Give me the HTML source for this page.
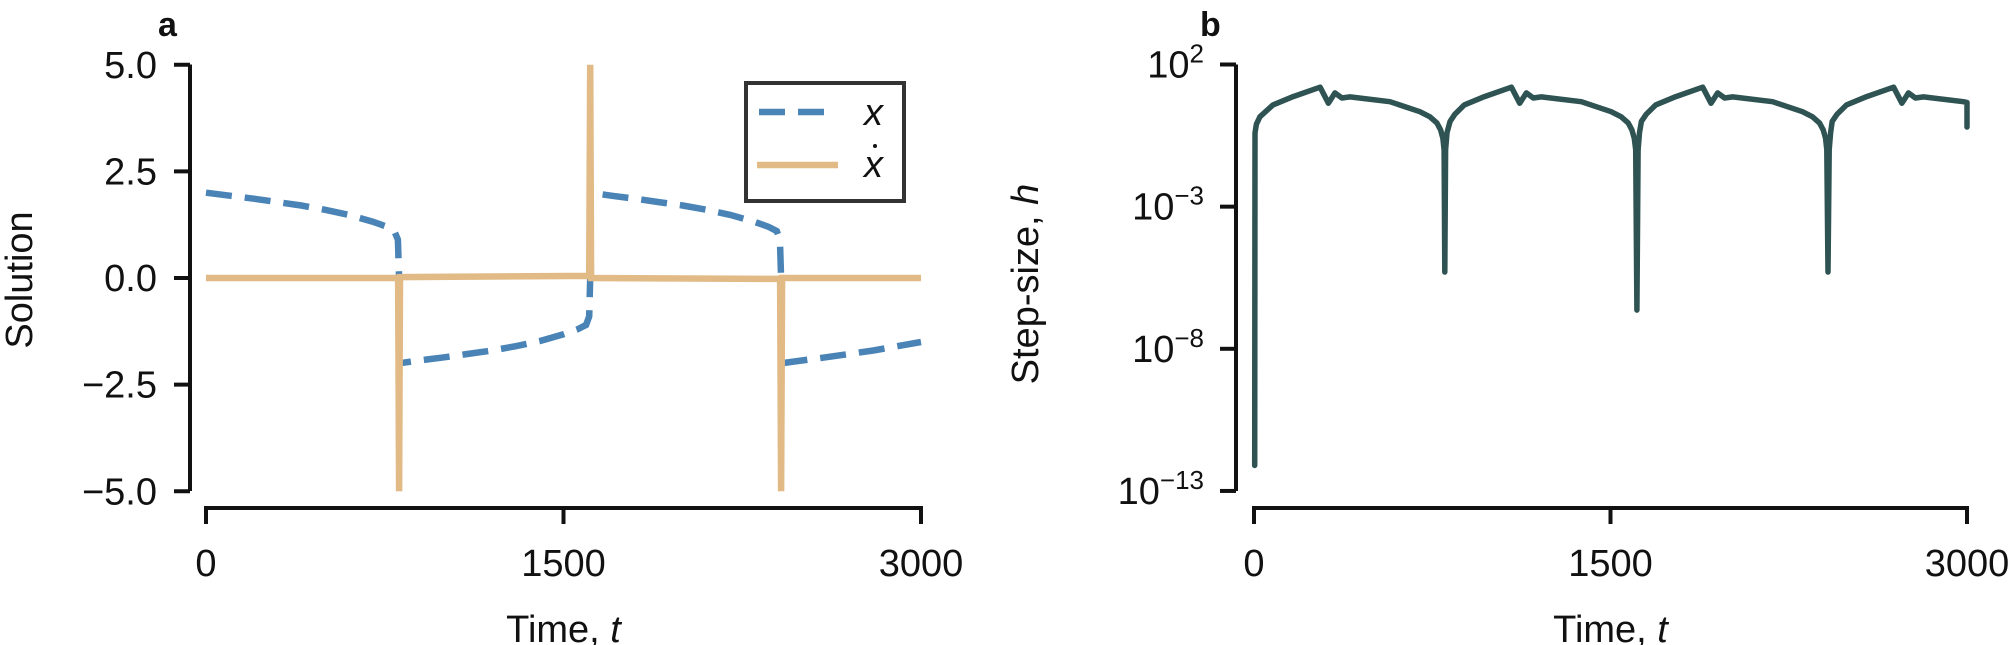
<!DOCTYPE html>
<html><head><meta charset="utf-8">
<style>
html,body{margin:0;padding:0;background:#fff;}
svg{display:block;font-family:"Liberation Sans",sans-serif;}
.tick{font-size:38px;fill:#111;}
.title{font-size:38px;fill:#111;}
</style></head>
<body>
<svg id="chart" width="2016" height="645" viewBox="0 0 2016 645">
<g id="pa"></g>
<g id="pb"></g>
</svg>
<script>
// Panel a data
const aXTicks = [0, 1500, 3000];
const aYTicks = [5.0, 2.5, 0.0, -2.5, -5.0];
const aYTickLabels = ["5.0", "2.5", "0.0", "\u22122.5", "\u22125.0"];
const xT = [0,100,200,300,400,500,600,700,760,790,805,810,810,
  900,1000,1100,1200,1300,1400,1500,1560,1595,1608,1612,1612,
  1700,1800,1900,2000,2100,2200,2300,2360,2395,2408,2413,2413,2600,2800,3000];
const xV = [2.0,1.93,1.86,1.78,1.7,1.6,1.48,1.32,1.2,1.1,0.9,0.0,-2.0,
  -1.93,-1.86,-1.78,-1.7,-1.6,-1.48,-1.32,-1.2,-1.1,-0.9,0.0,2.0,
  1.93,1.86,1.78,1.7,1.6,1.48,1.32,1.2,1.1,0.9,0.0,-2.0,-1.86,-1.7,-1.5];
const dT = [0,806,810,814,1608,1612,1616,2409,2413,2417,3000];
const dV = [0.0,0.0,-5.0,0.02,0.05,5.0,0.0,-0.02,-5.0,0.0,0.0];
// Panel b data (log10 step size)
const bYTicks = [2, -3, -8, -13];
const bYTickSup = ["2", "\u22123", "\u22128", "\u221213"];
const hT = [3,4,10,25,80,165,278,313,341,370,404,572,698,740,770,785,795,800,803,806,812,
  825,845,885,970,1083,1118,1146,1175,1209,1377,1503,1545,1575,1590,1600,1606,1611,1616,1622,
  1630,1650,1690,1775,1888,1923,1951,1980,2014,2182,2308,2350,2380,2395,2405,2410,2415,2420,2426,
  2433,2453,2493,2578,2691,2726,2754,2783,2817,2985,3000,3000];
const hV = [-12.1,-0.41,-0.1,0.16,0.58,0.87,1.2,0.64,1.0,0.82,0.86,0.69,0.34,0.16,-0.06,-0.3,-0.6,-1.0,-5.3,-1.0,-0.4,
  0.0,0.25,0.58,0.87,1.2,0.64,1.0,0.82,0.86,0.69,0.34,0.16,-0.06,-0.3,-0.6,-1.0,-6.64,-1.0,-0.4,
  0.0,0.25,0.58,0.87,1.2,0.64,1.0,0.82,0.86,0.69,0.34,0.16,-0.06,-0.3,-0.6,-1.0,-5.3,-1.0,-0.4,
  0.0,0.25,0.58,0.87,1.2,0.64,1.0,0.82,0.86,0.69,0.66,-0.2];

const NS = "http://www.w3.org/2000/svg";
function mk(parent, tag, attrs, text){
  const e = document.createElementNS(NS, tag);
  for (const k in attrs) e.setAttribute(k, attrs[k]);
  if (text !== undefined) e.textContent = text;
  parent.appendChild(e);
  return e;
}
const pa = document.getElementById('pa');
const pb = document.getElementById('pb');

const axX = t => 206 + t * (921 - 206) / 3000;
const axY = v => 278 - v * 42.65;
const bxX = t => 1254 + t * (1967 - 1254) / 3000;
const bxY = l => 64.5 + (2 - l) * 28.43;

function axes(g, x0, x1, yTop, yBot, spineX, xTicks, xScale){
  let e;
  e = mk(g, 'line', {x1: spineX, y1: yTop, x2: spineX, y2: yBot, stroke: '#111', 'stroke-width': 4});
  
  
  e = mk(g, 'line', {x1: x0, y1: 508, x2: x1, y2: 508, stroke: '#111', 'stroke-width': 4});
  
  
  xTicks.forEach(t => {
    const x = xScale(t);
    e = mk(g, 'line', {x1: x, y1: 508, x2: x, y2: 524, stroke: '#111', 'stroke-width': 4});
    
    
    e = mk(g, 'text', {x: x, y: 576, 'text-anchor': 'middle', class: 'tick'}, String(t));
    
    
  });
  e = mk(g, 'text', {x: (x0 + x1) / 2, y: 642, 'text-anchor': 'middle', class: 'title'});
  
  
  mk(e, 'tspan', {}, 'Time, ');
  mk(e, 'tspan', {'font-style': 'italic'}, 't');
}

// ---- Panel a ----
axes(pa, 204, 923, 64.5, 491, 190, aXTicks, axX);
aYTicks.forEach((v, i) => {
  const y = axY(v);
  let e = mk(pa, 'line', {x1: 174, y1: y, x2: 190, y2: y, stroke: '#111', 'stroke-width': 4});
  
  
  e = mk(pa, 'text', {x: 157, y: y + 13, 'text-anchor': 'end', class: 'tick'}, aYTickLabels[i]);
  
  
});
let t;
t = mk(pa, 'text', {x: 32, y: 280, 'text-anchor': 'middle', class: 'title', transform: 'rotate(-90 32 280)'}, 'Solution');


t = mk(pa, 'text', {x: 158, y: 36, 'font-size': 34, 'font-weight': 'bold', fill: '#111'}, 'a');



const xPath = mk(pa, 'path', {d: xT.map((tt, i) => (i ? 'L' : 'M') + axX(tt).toFixed(1) + ',' + axY(xV[i]).toFixed(1)).join(''),
  fill: 'none', stroke: '#4a83b6', 'stroke-width': 6.5, 'stroke-dasharray': '26 13'});


const dPath = mk(pa, 'path', {d: dT.map((tt, i) => (i ? 'L' : 'M') + axX(tt).toFixed(1) + ',' + axY(dV[i]).toFixed(1)).join(''),
  fill: 'none', stroke: '#e2ba86', 'stroke-width': 6.5});



// legend
const lg = mk(pa, 'g', {});


mk(lg, 'rect', {x: 746, y: 83, width: 158, height: 118, fill: '#fff', stroke: '#333', 'stroke-width': 4});
let le = mk(lg, 'line', {x1: 759, y1: 112, x2: 829, y2: 112, stroke: '#4a83b6', 'stroke-width': 6.5, 'stroke-dasharray': '26 13'});


le = mk(lg, 'text', {x: 864, y: 125, 'font-size': 38, 'font-style': 'italic', fill: '#111'}, 'x');


le = mk(lg, 'line', {x1: 757, y1: 165, x2: 838, y2: 165, stroke: '#e2ba86', 'stroke-width': 6.5});


le = mk(lg, 'text', {x: 864, y: 177, 'font-size': 38, 'font-style': 'italic', fill: '#111'}, 'x');


mk(lg, 'circle', {cx: 875, cy: 146, r: 2, fill: '#111'});

// ---- Panel b ----
axes(pb, 1252, 1969, 64.5, 491, 1236, aXTicks, bxX);
bYTicks.forEach((v, i) => {
  const y = bxY(v);
  let e = mk(pb, 'line', {x1: 1220, y1: y, x2: 1236, y2: y, stroke: '#111', 'stroke-width': 4});
  
  
  e = mk(pb, 'text', {x: 1204, y: y + 13, 'text-anchor': 'end', class: 'tick'});
  
  
  mk(e, 'tspan', {}, '10');
  mk(e, 'tspan', {dy: -15, 'font-size': 26}, bYTickSup[i]);
});
t = mk(pb, 'text', {x: 1038, y: 284, 'text-anchor': 'middle', class: 'title', transform: 'rotate(-90 1038 284)'});


mk(t, 'tspan', {}, 'Step-size, ');
mk(t, 'tspan', {'font-style': 'italic'}, 'h');
t = mk(pb, 'text', {x: 1200, y: 36, 'font-size': 34, 'font-weight': 'bold', fill: '#111'}, 'b');


const hPath = mk(pb, 'path', {d: hT.map((tt, i) => (i ? 'L' : 'M') + bxX(tt).toFixed(1) + ',' + bxY(hV[i]).toFixed(1)).join(''),
  fill: 'none', stroke: '#2e5352', 'stroke-width': 5.5, 'stroke-linejoin': 'round', 'stroke-linecap': 'round'});


</script>
</body></html>
